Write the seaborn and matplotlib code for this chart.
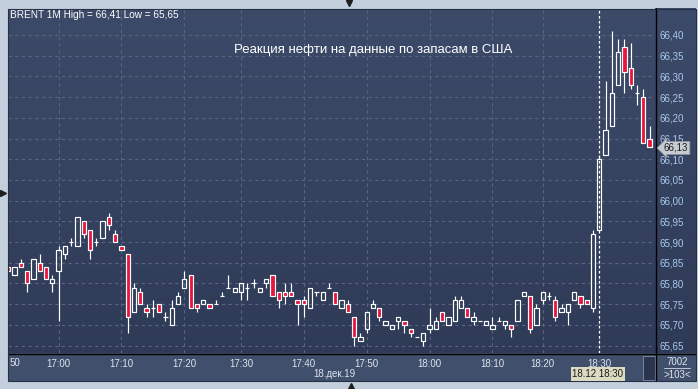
"""
plot.py - BRENT 1M candles, reaction to US stocks data
"""

import numpy as np
import pandas as pd
import matplotlib
matplotlib.use('Agg')
import matplotlib.pyplot as plt
from matplotlib.patches import Rectangle
from matplotlib.lines import Line2D
from matplotlib.colors import LinearSegmentedColormap
import seaborn as sns

# ============================================
# DATA (1-minute candles, 16:50 .. 18:32)
# ============================================
opens = [65.84, 65.82, 65.85, 65.83, 65.81, 65.85, 65.84, 65.80, 65.83, 65.87,
         65.90, 65.89, 65.95, 65.93, 65.90, 65.91, 65.96, 65.92, 65.89, 65.87,
         65.73, 65.78, 65.74, 65.74, 65.75, 65.72, 65.70, 65.75, 65.79, 65.82,
         65.75, 65.75, 65.75, 65.75, 65.77, 65.79, 65.78, 65.78, 65.79, 65.80,
         65.78, 65.80, 65.82, 65.78, 65.78, 65.78, 65.76, 65.76, 65.74, 65.78,
         65.76, 65.79, 65.78, 65.74, 65.75, 65.72, 65.66, 65.69, 65.74, 65.74,
         65.70, 65.69, 65.71, 65.71, 65.69, 65.67, 65.66, 65.69, 65.69, 65.73,
         65.70, 65.71, 65.74, 65.74, 65.71, 65.71, 65.70, 65.69, 65.71, 65.70,
         65.70, 65.71, 65.77, 65.77, 65.70, 65.76, 65.77, 65.76, 65.73, 65.73,
         65.76, 65.77, 65.76, 65.74, 65.93, 66.11, 66.18, 66.28, 66.37, 66.32,
         66.26, 66.25, 66.15]
highs = [65.84, 65.84, 65.86, 65.83, 65.86, 65.87, 65.84, 65.82, 65.89, 65.89,
         65.91, 65.96, 65.95, 65.93, 65.91, 65.95, 65.97, 65.93, 65.89, 65.87,
         65.80, 65.79, 65.75, 65.76, 65.75, 65.73, 65.76, 65.78, 65.83, 65.82,
         65.75, 65.76, 65.75, 65.76, 65.78, 65.82, 65.79, 65.80, 65.80, 65.81,
         65.79, 65.81, 65.82, 65.78, 65.80, 65.80, 65.76, 65.77, 65.79, 65.78,
         65.78, 65.80, 65.78, 65.76, 65.76, 65.72, 65.68, 65.73, 65.76, 65.74,
         65.71, 65.70, 65.72, 65.71, 65.69, 65.67, 65.68, 65.74, 65.72, 65.73,
         65.72, 65.77, 65.77, 65.74, 65.73, 65.71, 65.71, 65.72, 65.72, 65.71,
         65.70, 65.76, 65.78, 65.77, 65.75, 65.78, 65.78, 65.77, 65.75, 65.75,
         65.78, 65.77, 65.76, 65.93, 66.11, 66.29, 66.41, 66.39, 66.39, 66.38,
         66.28, 66.27, 66.18]
lows = [65.83, 65.82, 65.84, 65.78, 65.81, 65.83, 65.81, 65.78, 65.71, 65.86,
        65.89, 65.89, 65.91, 65.86, 65.89, 65.91, 65.93, 65.90, 65.88, 65.68,
        65.73, 65.75, 65.72, 65.72, 65.73, 65.71, 65.70, 65.75, 65.79, 65.74,
        65.73, 65.75, 65.74, 65.75, 65.77, 65.79, 65.78, 65.76, 65.76, 65.79,
        65.78, 65.79, 65.77, 65.74, 65.75, 65.77, 65.70, 65.72, 65.74, 65.77,
        65.76, 65.79, 65.75, 65.74, 65.73, 65.65, 65.66, 65.68, 65.74, 65.71,
        65.70, 65.69, 65.69, 65.68, 65.67, 65.67, 65.65, 65.68, 65.69, 65.71,
        65.70, 65.71, 65.74, 65.72, 65.70, 65.71, 65.70, 65.69, 65.71, 65.69,
        65.67, 65.71, 65.77, 65.68, 65.70, 65.75, 65.76, 65.71, 65.73, 65.70,
        65.76, 65.74, 65.75, 65.73, 65.93, 66.11, 66.18, 66.28, 66.26, 66.27,
        66.23, 66.14, 66.13]
closes = [65.83, 65.84, 65.84, 65.80, 65.86, 65.83, 65.81, 65.81, 65.88, 65.89,
          65.90, 65.96, 65.92, 65.88, 65.90, 65.95, 65.94, 65.90, 65.88, 65.72,
          65.79, 65.75, 65.73, 65.74, 65.73, 65.72, 65.74, 65.77, 65.81, 65.74,
          65.74, 65.76, 65.74, 65.75, 65.77, 65.79, 65.79, 65.80, 65.79, 65.80,
          65.79, 65.81, 65.77, 65.76, 65.77, 65.77, 65.75, 65.75, 65.79, 65.78,
          65.78, 65.79, 65.75, 65.76, 65.73, 65.67, 65.67, 65.73, 65.75, 65.72,
          65.71, 65.70, 65.72, 65.70, 65.68, 65.67, 65.68, 65.70, 65.71, 65.71,
          65.72, 65.76, 65.76, 65.72, 65.72, 65.71, 65.71, 65.70, 65.71, 65.71,
          65.69, 65.76, 65.78, 65.69, 65.74, 65.78, 65.77, 65.72, 65.74, 65.75,
          65.78, 65.75, 65.75, 65.92, 66.10, 66.17, 66.26, 66.36, 66.31, 66.28,
          66.26, 66.14, 66.13]

time_ticks = [8, 18, 28, 37, 47, 57, 67, 77, 85, 94]
time_labels = ['17:00', '17:10', '17:20', '17:30', '17:40',
               '17:50', '18:00', '18:10', '18:20', '18:30']
price_ticks = [65.65, 65.70, 65.75, 65.80, 65.85, 65.90, 65.95, 66.00,
               66.05, 66.10, 66.15, 66.20, 66.25, 66.30, 66.35, 66.40]
price_labels = ['65,65', '65,70', '65,75', '65,80', '65,85', '65,90', '65,95', '66,00',
                '66,05', '66,10', '66,15', '66,20', '66,25', '66,30', '66,35', '66,40']
cursor_idx = 94
last_price = '66,13'

df = pd.DataFrame({'open': opens, 'high': highs, 'low': lows, 'close': closes})
df['x'] = np.arange(len(df))
df['lo'] = df[['open', 'close']].min(axis=1)
df['hi'] = df[['open', 'close']].max(axis=1)
df['up'] = df['close'] >= df['open']

# ============================================
# STYLE
# ============================================
W, H = 698, 389
sns.set_theme(style='dark', rc={'figure.facecolor': '#c3cfdc',
                                'axes.facecolor': '#34425e'})
plt.rcParams['font.family'] = ['Liberation Sans', 'DejaVu Sans']

def fx(x):
    return x / W

def fy(y):
    return 1 - y / H

def rect(x0, y0, x1, y1, **kw):
    fig.add_artist(Rectangle((fx(x0), fy(y1)), (x1 - x0) / W, (y1 - y0) / H,
                             transform=fig.transFigure, **kw))

grad = LinearSegmentedColormap.from_list('bg', ['#2e3a56', '#3d4b6a'])

fig = plt.figure(figsize=(W / 100, H / 100), dpi=100)

# frame pieces
rect(8, 353, 696, 381, facecolor='#40506c', edgecolor='none', zorder=0.2)
rect(643, 356, 655, 380, facecolor='#2a344c', edgecolor='#8090a8', lw=0.6, zorder=0.3)

rax = fig.add_axes([fx(655), fy(353), 41 / W, 345 / H])
rax.imshow(np.linspace(0, 1, 256).reshape(-1, 1)[::-1], cmap=grad, aspect='auto',
           extent=[0, 1, 0, 1])
rax.set_axis_off()
rax.set_zorder(0.1)

ax = fig.add_axes([fx(8), fy(353), 647 / W, 344 / H])
ax.set_zorder(1)
ax.imshow(np.linspace(0, 1, 256).reshape(-1, 1)[::-1], cmap=grad, aspect='auto',
          extent=[-1, 104, 65.6, 66.5], zorder=0)

# ============================================
# CANDLES
# ============================================
red = '#e8163f'
lw = 0.85
ax.vlines(df['x'], df['hi'], df['high'], color='white', lw=lw, zorder=3)
ax.vlines(df['x'], df['low'], df['lo'], color='white', lw=lw, zorder=3)
up = df[df['up']]
dn = df[~df['up']]
ax.bar(up['x'], up['hi'] - up['lo'], bottom=up['lo'], width=0.68,
       facecolor='none', edgecolor='white', linewidth=lw, zorder=4)
ax.bar(dn['x'], dn['hi'] - dn['lo'], bottom=dn['lo'], width=0.68,
       facecolor=red, edgecolor='white', linewidth=lw, zorder=4)

ax.axvline(cursor_idx, color='white', lw=0.9, ls=(0, (2, 2)), zorder=5)

ax.set_xlim(-0.05, 102.86)
ax.set_ylim(65.6319, 66.4628)
ax.set_xticks(time_ticks, time_labels)
ax.set_yticks(price_ticks, price_labels)
ax.yaxis.tick_right()
ax.grid(True, color='#57657f', ls=(0, (3, 3)), lw=0.8, zorder=1)
ax.tick_params(axis='y', length=0, pad=3, labelcolor='#aac8ee', labelsize=7)
ax.tick_params(axis='x', length=0, pad=4, labelcolor='#dde3ec', labelsize=7)
for s in ax.spines.values():
    s.set_visible(False)

# separators and border
fig.add_artist(Line2D([fx(655.5), fx(655.5)], [fy(8), fy(381)], color='black', lw=1,
                      transform=fig.transFigure, zorder=6))
fig.add_artist(Line2D([fx(8), fx(696)], [fy(353.5), fy(353.5)], color='black', lw=1,
                      transform=fig.transFigure, zorder=6))
rect(8, 8.5, 696, 381, facecolor='none', edgecolor='#263044', lw=0.8, zorder=6)

# ============================================
# TEXTS
# ============================================
fig.text(fx(10), fy(15), 'BRENT 1M High = 66,41 Low = 65,65', ha='left', va='center',
         color='white', fontsize=7.2)
fig.text(fx(373), fy(50), 'Реакция нефти на данные по запасам в США', ha='center',
         va='center', color='white', fontsize=9.5)
fig.text(fx(10), fy(363), '50', ha='left', va='center', color='#dde3ec', fontsize=7)
fig.text(fx(334), fy(374), '18.дек.19', ha='center', va='center', color='#dde3ec',
         fontsize=7)
fig.text(fx(598), fy(374), '18.12 18:30', ha='center', va='center', color='#1c1c1c',
         fontsize=7, zorder=7,
         bbox=dict(boxstyle='square,pad=0.2', fc='#dcdac0', ec='none'))
fig.text(fx(677), fy(362), '7002', ha='center', va='center', color='#dde3ec', fontsize=7)
fig.add_artist(Line2D([fx(664), fx(690)], [fy(368), fy(368)], color='#c0c8d6', lw=0.7,
                      transform=fig.transFigure))
fig.text(fx(677), fy(375), '>103<', ha='center', va='center', color='#dde3ec', fontsize=7)
fig.text(fx(664), fy(148), last_price, ha='left', va='center', color='#1c1c1c',
         fontsize=7, zorder=7,
         bbox=dict(boxstyle='larrow,pad=0.15', fc='#c7ccd2', ec='#8a929c', lw=0.6))

# small navigation triangles
for (px_, py_, m) in [(349, 3, 'v'), (3, 193, '>'), (351, 386, '^')]:
    fig.add_artist(Line2D([fx(px_)], [fy(py_)], marker=m, color='#1e1e1e', markersize=4,
                          transform=fig.transFigure, zorder=7))

plt.savefig('out.png', dpi=100)
print("saved out.png")
